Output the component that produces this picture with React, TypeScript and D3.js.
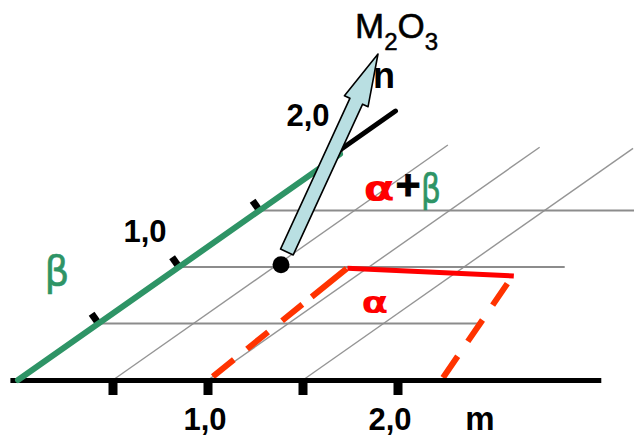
import React from "react";
import * as d3 from "d3";

// ---- data (oblique m / n coordinates) ----
const mTicks = [0.5, 1.0, 1.5, 2.0];
const mLabelValues = [1.0, 2.0];
const mLabelTexts = ["1,0", "2,0"];
const nTicks = [0.5, 1.0, 1.5, 2.0];
const nLabelValues = [1.0, 2.0];
const nLabelTexts = ["1,0", "2,0"];
const hGridN = [0.5, 1.0, 1.5];
const hGridMEnd = [2.0, 2.03, 2.0];
const sGridM = [0.5, 1.0, 1.5];
const sGridNEnd = [2.08, 2.06, 2.05];
const betaAxisN = [0, 2.0];
const blackAxisN = [2.0, 2.38];
const alphaSolid: [number, number][] = [[0.895, 0.99], [1.83, 0.92]];
const alphaDashLeft: [number, number][] = [[1.0, 0.03], [0.895, 0.985]];
const alphaDashRight: [number, number][] = [[2.22, 0.02], [1.845, 0.87]];
const dotPoint: [number, number] = [0.52, 1.02];
const arrowTip: [number, number] = [-0.55, 2.885];
const baselineM = [-0.04, 3.07];

const W = 634;
const H = 437;

// scales
const mX = d3.scaleLinear().domain([0, 1]).range([18, 208]);
const nY = d3.scaleLinear().domain([0, 1]).range([380, 267]);
const nDX = d3.scaleLinear().domain([0, 1]).range([0, 161]);
const P = (m: number, n: number): [number, number] => [mX(m) + nDX(n), nY(n)];

const line = d3.line<[number, number]>().x((d) => P(d[0], d[1])[0]).y((d) => P(d[0], d[1])[1]);

const GREEN = "#2e9466";
const FONT = "'Liberation Sans', Arial, Helvetica, sans-serif";
const GREEK = "'DejaVu Sans', sans-serif";

// n-axis direction unit and perpendicular (upper-left)
const a0 = P(0, 0);
const a1 = P(0, 1);
const axLen = Math.hypot(a1[0] - a0[0], a1[1] - a0[1]);
const ux = (a1[0] - a0[0]) / axLen;
const uy = (a1[1] - a0[1]) / axLen;
const px = uy; // perpendicular pointing up-left
const py = -ux;

function arrowPath() {
  const s0 = P(dotPoint[0], dotPoint[1]);
  const t = P(arrowTip[0], arrowTip[1]);
  const dx = t[0] - s0[0];
  const dy = t[1] - s0[1];
  const L = Math.hypot(dx, dy);
  const ex = dx / L, ey = dy / L;
  const qx = -ey, qy = ex;
  const start = [s0[0] + ex * 14, s0[1] + ey * 14];
  const headLen = 52;
  const base = [t[0] - ex * headLen, t[1] - ey * headLen];
  const sw = 7, hw = 13;
  const pts = [
    [start[0] + qx * sw, start[1] + qy * sw],
    [base[0] + qx * sw, base[1] + qy * sw],
    [base[0] + qx * hw, base[1] + qy * hw],
    [t[0], t[1]],
    [base[0] - qx * hw, base[1] - qy * hw],
    [base[0] - qx * sw, base[1] - qy * sw],
    [start[0] - qx * sw, start[1] - qy * sw],
  ];
  const p = d3.path();
  pts.forEach((q, i) => (i === 0 ? p.moveTo(q[0], q[1]) : p.lineTo(q[0], q[1])));
  p.closePath();
  return p.toString();
}

export default function App() {
  const dot = P(dotPoint[0], dotPoint[1]);
  return (
    <svg
      width={W}
      height={H}
      viewBox={`0 0 ${W} ${H}`}
      style={{ position: "absolute", left: 0, top: 0, background: "#fff" }}
    >
      {/* slanted gray grid lines */}
      {sGridM.map((m, i) => (
        <path key={"s" + i} d={line([[m, 0], [m, sGridNEnd[i]]]) || ""} stroke="#959595" strokeWidth={1.4} fill="none" />
      ))}
      {/* horizontal gray grid lines */}
      {hGridN.map((n, i) => (
        <path key={"h" + i} d={line([[0, n], [hGridMEnd[i], n]]) || ""} stroke="#8c8c8c" strokeWidth={2} fill="none" />
      ))}
      {/* alpha region boundaries */}
      <path d={line(alphaDashLeft) || ""} stroke="#ff3300" strokeWidth={6} fill="none" strokeDasharray="27,17,27,18,26,12,60" />
      <path d={line(alphaDashRight) || ""} stroke="#ff3300" strokeWidth={6} fill="none" strokeDasharray="26,18" />
      <path d={line(alphaSolid) || ""} stroke="#ff0000" strokeWidth={5} fill="none" />
      {/* baseline (m axis) */}
      <path d={`M${mX(baselineM[0])},380.5H${mX(baselineM[1])}`} stroke="#000" strokeWidth={5} />
      {mTicks.map((m, i) => (
        <rect key={"mt" + i} x={mX(m) - 4.5} y={380} width={9} height={15} fill="#000" />
      ))}
      {/* n axis ticks */}
      {nTicks.map((n, i) => {
        const q = P(0, n);
        return (
          <line key={"nt" + i} x1={q[0]} y1={q[1]} x2={q[0] + px * 12} y2={q[1] + py * 12} stroke="#000" strokeWidth={7} />
        );
      })}
      {/* n axis */}
      <path d={line([[0, betaAxisN[0]], [0, betaAxisN[1]]]) || ""} stroke={GREEN} strokeWidth={6} fill="none" strokeLinecap="round" />
      <path d={line([[-0.03, blackAxisN[0]], [-0.03, blackAxisN[1]]]) || ""} stroke="#000" strokeWidth={5} fill="none" strokeLinecap="round" />
      {/* composition point */}
      <circle cx={dot[0]} cy={dot[1]} r={8.5} fill="#000" />
      {/* arrow */}
      <path d={arrowPath()} fill="#b9dfe2" stroke="#000" strokeWidth={1.6} strokeLinejoin="round" />
      {/* texts */}
      <g fontFamily={FONT}>
        {mLabelValues.map((v, i) => (
          <text key={"ml" + i} x={mX(v) - 3 - 5 * i} y={430} fontSize={31} fontWeight="bold" textAnchor="middle">
            {mLabelTexts[i]}
          </text>
        ))}
        <text x={480} y={430} fontSize={33} fontWeight="bold" textAnchor="middle">m</text>
        {nLabelValues.map((v, i) => {
          const q = P(0, v);
          return (
            <text key={"nl" + i} x={q[0] - 34 + 2 * i} y={q[1] - 25 - i * 3} fontSize={31} fontWeight="bold" textAnchor="middle">
              {nLabelTexts[i]}
            </text>
          );
        })}
        <text x={384} y={88} fontSize={36} fontWeight="bold" textAnchor="middle">n</text>
        <text x={355} y={38} fontSize={35} stroke="#000" strokeWidth={0.5}>
          M<tspan fontSize={24} dy={12}>2</tspan><tspan dy={-12}>O</tspan><tspan fontSize={24} dy={12}>3</tspan>
        </text>
        <text transform="translate(57,285) scale(0.95,1)" fontSize={41} fontFamily={GREEK} fill={GREEN} textAnchor="middle" stroke={GREEN} strokeWidth={0.6}>β</text>
        <text transform="translate(379,201) scale(1.3,1)" fontSize={35} fontFamily={GREEK} fontWeight="bold" fill="#ff0000" textAnchor="middle">α</text>
        <text x={408} y={199} fontSize={43} fontWeight="bold" fill="#000" textAnchor="middle" stroke="#000" strokeWidth={0.8}>+</text>
        <text transform="translate(431,202) scale(0.8,1)" fontSize={39} fontFamily={GREEK} fill={GREEN} textAnchor="middle" stroke={GREEN} strokeWidth={0.7}>β</text>
        <text transform="translate(375,313) scale(1.3,1)" fontSize={30} fontFamily={GREEK} fontWeight="bold" fill="#ff0000" textAnchor="middle">α</text>
      </g>
    </svg>
  );
}
